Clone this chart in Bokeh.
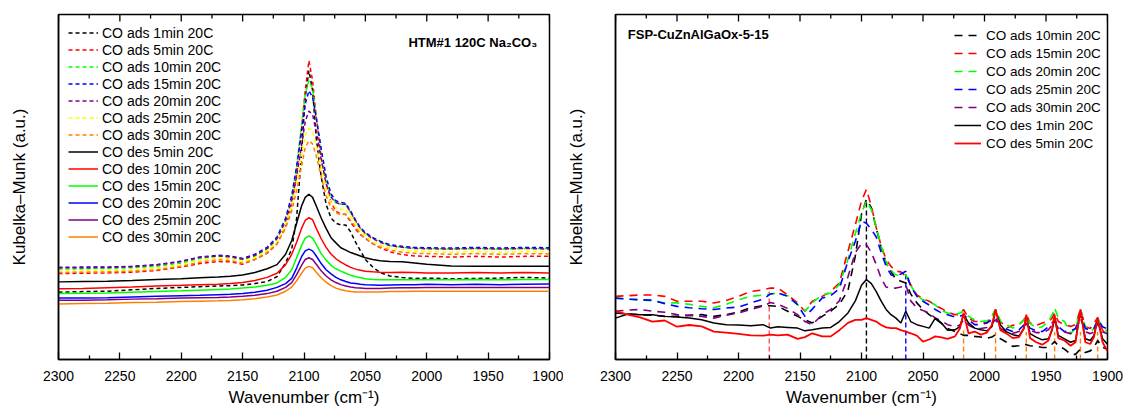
from bokeh.plotting import figure
from bokeh.models import Range1d, FixedTicker, Legend, LegendItem, Label
from bokeh.layouts import row
from bokeh.embed import file_html
from bokeh.resources import INLINE

FONT = "Liberation Sans"

# ---------------- Left panel data (HTM#1 120C Na2CO3) ----------------
WN_L = [2300, 2280, 2260, 2240, 2220, 2200, 2185, 2170, 2160, 2150, 2140, 2130, 2122, 2115,
        2110, 2106, 2102, 2099, 2096, 2093, 2090, 2086, 2082, 2078, 2074, 2070, 2066, 2062,
        2058, 2054, 2050, 2044, 2038, 2030, 2020, 2010, 2000, 1980, 1960, 1940, 1920, 1900]

L_ADS_1 = [19.5, 19.7, 19.8, 20.2, 20.6, 20.9, 21.1, 21.3, 21.4, 21.6, 22.0, 22.6, 24.0, 28.0,
           32.0, 41.0, 60.0, 76.0, 83.7, 78.0, 64.0, 53.0, 45.0, 41.0, 39.5, 39.0, 39.0, 37.0,
           34.0, 31.5, 29.0, 26.8, 25.2, 24.2, 23.8, 23.5, 23.6, 23.4, 23.5, 23.6, 23.8, 23.6]
L_ADS_5 = [24.9, 25.0, 25.1, 25.3, 25.8, 26.8, 27.8, 28.4, 28.3, 27.6, 29.0, 30.8, 33.5, 38.5,
           44.5, 53.8, 67.0, 78.0, 86.6, 80.8, 70.2, 58.5, 50.8, 45.5, 43.0, 42.1, 42.1, 39.8,
           37.8, 36.2, 35.1, 33.6, 32.4, 31.2, 30.4, 30.0, 29.9, 29.7, 29.9, 29.7, 29.9, 29.9]
L_ADS_10 = [26.2, 26.3, 26.4, 26.6, 27.0, 28.0, 29.3, 29.9, 29.7, 29.0, 30.0, 32.0, 35.0, 40.5,
            47.0, 56.0, 68.0, 77.0, 80.8, 78.5, 70.0, 61.0, 52.0, 47.5, 45.5, 45.0, 44.8, 42.5,
            40.0, 38.0, 36.5, 35.3, 34.3, 33.0, 32.5, 32.3, 32.2, 32.0, 32.2, 32.0, 32.2, 32.2]
L_ADS_15 = [26.7, 26.8, 26.8, 27.0, 27.5, 28.5, 29.7, 30.2, 30.0, 29.3, 30.5, 32.5, 35.5, 41.0,
            47.5, 56.0, 66.0, 74.0, 77.9, 76.0, 70.0, 61.0, 53.0, 48.0, 46.0, 45.5, 45.3, 43.0,
            40.5, 38.2, 36.8, 35.3, 34.3, 33.3, 32.8, 32.5, 32.4, 32.3, 32.5, 32.3, 32.5, 32.4]
L_ADS_20 = [26.6, 26.6, 26.7, 26.9, 27.4, 28.4, 29.6, 30.0, 29.8, 29.1, 30.2, 32.2, 35.0, 40.0,
            46.0, 53.0, 62.0, 69.0, 72.0, 71.0, 66.0, 58.0, 51.0, 47.0, 45.5, 45.0, 45.0, 42.7,
            40.2, 37.9, 36.5, 35.0, 34.0, 33.0, 32.5, 32.2, 32.1, 32.0, 32.2, 32.0, 32.2, 32.0]
L_ADS_25 = [25.6, 25.7, 25.8, 26.0, 26.5, 27.5, 28.8, 29.4, 29.2, 28.4, 29.5, 31.5, 34.0, 39.0,
            44.5, 51.0, 59.0, 65.0, 67.0, 66.0, 62.0, 55.5, 49.5, 45.5, 44.0, 43.5, 43.5, 41.5,
            39.5, 37.3, 35.8, 34.3, 33.2, 32.3, 31.7, 31.4, 31.3, 31.1, 31.3, 31.1, 31.3, 31.2]
L_ADS_30 = [25.2, 25.3, 25.4, 25.6, 26.0, 27.0, 28.2, 28.9, 28.7, 27.9, 29.0, 31.0, 33.5, 38.0,
            43.0, 49.0, 56.0, 61.5, 63.4, 62.5, 59.0, 53.0, 47.5, 44.0, 42.5, 42.0, 42.0, 40.3,
            38.4, 36.4, 35.0, 33.6, 32.6, 31.7, 31.1, 30.8, 30.7, 30.5, 30.7, 30.5, 30.7, 30.6]
L_DES_5 = [22.5, 22.6, 22.7, 22.9, 23.2, 23.4, 23.7, 23.9, 24.1, 24.5, 25.2, 26.3, 27.5, 30.5,
           34.5, 39.5, 44.5, 47.0, 47.9, 47.0, 44.5, 41.0, 38.0, 35.3, 33.8, 32.4, 31.7, 31.0,
           30.5, 30.0, 29.5, 29.0, 28.6, 28.4, 28.3, 28.0, 27.6, 27.1, 27.0, 27.0, 27.0, 27.0]
L_DES_10 = [20.5, 20.6, 20.8, 21.0, 21.3, 21.5, 21.7, 21.8, 22.0, 22.3, 22.9, 23.8, 25.0, 27.5,
            30.5, 34.0, 38.0, 40.3, 41.1, 40.5, 38.0, 35.0, 32.5, 30.6, 29.2, 28.2, 27.4, 26.7,
            26.2, 25.9, 25.6, 25.4, 25.3, 25.2, 25.3, 25.2, 25.1, 25.1, 25.2, 25.1, 25.2, 25.1]
L_DES_15 = [19.1, 19.2, 19.3, 19.5, 19.7, 19.9, 20.1, 20.3, 20.4, 20.7, 21.0, 21.5, 22.2, 23.8,
            26.0, 29.5, 33.0, 35.2, 35.8, 35.2, 33.3, 30.7, 28.8, 27.3, 26.3, 25.6, 25.0, 24.4,
            24.0, 23.7, 23.4, 23.2, 23.1, 23.1, 23.1, 23.1, 23.1, 23.1, 23.2, 23.1, 23.2, 23.2]
L_DES_20 = [17.8, 17.8, 17.9, 18.1, 18.3, 18.5, 18.6, 18.8, 18.9, 19.1, 19.5, 20.1, 20.9, 22.0,
            23.5, 26.5, 29.8, 31.5, 32.0, 31.5, 30.0, 27.8, 26.0, 24.8, 23.8, 23.1, 22.6, 22.2,
            22.0, 21.8, 21.7, 21.6, 21.5, 21.6, 21.7, 21.7, 21.8, 21.7, 21.8, 21.7, 21.8, 21.9]
L_DES_25 = [17.2, 17.2, 17.3, 17.5, 17.6, 17.8, 17.9, 18.0, 18.1, 18.3, 18.6, 19.1, 19.8, 20.9,
            22.3, 24.6, 27.3, 29.0, 29.5, 29.0, 27.6, 25.7, 24.2, 23.1, 22.3, 21.7, 21.3, 21.0,
            20.8, 20.7, 20.6, 20.6, 20.6, 20.7, 20.8, 20.8, 20.9, 20.9, 20.9, 20.9, 20.9, 20.9]
L_DES_30 = [16.1, 16.2, 16.3, 16.5, 16.6, 16.8, 16.9, 17.0, 17.1, 17.3, 17.6, 18.1, 18.7, 19.8,
            21.0, 22.8, 25.0, 26.5, 27.0, 26.6, 25.3, 23.7, 22.4, 21.4, 20.7, 20.2, 19.9, 19.7,
            19.6, 19.6, 19.6, 19.6, 19.6, 19.7, 19.7, 19.8, 19.8, 19.8, 19.8, 19.8, 19.8, 19.8]

L_NAMES = ["CO ads 1min 20C", "CO ads 5min 20C", "CO ads 10min 20C", "CO ads 15min 20C",
           "CO ads 20min 20C", "CO ads 25min 20C", "CO ads 30min 20C", "CO des 5min 20C",
           "CO des 10min 20C", "CO des 15min 20C", "CO des 20min 20C", "CO des 25min 20C",
           "CO des 30min 20C"]
L_SERIES = [L_ADS_1, L_ADS_5, L_ADS_10, L_ADS_15, L_ADS_20, L_ADS_25, L_ADS_30,
            L_DES_5, L_DES_10, L_DES_15, L_DES_20, L_DES_25, L_DES_30]
L_COLORS = ["#000000", "#ff0000", "#00ff00", "#0000ff", "#800080", "#ffff00", "#ff8000",
            "#000000", "#ff0000", "#00ff00", "#0000ff", "#800080", "#ff8000"]
L_DASHED = [True] * 7 + [False] * 6

# ---------------- Right panel data (FSP-CuZnAlGaOx-5-15) ----------------
WN_R = [2300, 2290, 2280, 2270, 2260, 2250, 2240, 2230, 2220, 2210,
        2200, 2190, 2180, 2174, 2168, 2160, 2152, 2146, 2140, 2132,
        2125, 2118, 2111, 2105, 2100, 2096, 2092, 2088, 2084, 2080,
        2076, 2072, 2068, 2064, 2060, 2055, 2050, 2045, 2040, 2035,
        2030, 2024, 2020, 2017, 2013, 2008, 2003, 1998, 1994, 1991,
        1987, 1982, 1977, 1972, 1968, 1966, 1963, 1958, 1953, 1948,
        1945, 1943, 1940, 1935, 1930, 1926, 1922, 1918, 1914, 1911,
        1908, 1904, 1900]

R_ADS_10 = [13.5, 13.2, 13.0, 12.8, 12.5, 12.5, 12.8, 13.0, 12.5, 13.0,
            13.8, 15.0, 15.6, 15.6, 15.4, 14.0, 12.5, 11.5, 10.6, 12.5,
            14.0, 16.0, 20.0, 30.0, 42.1, 46.4, 44.0, 38.0, 32.5, 28.0,
            25.5, 23.2, 22.7, 22.2, 19.0, 16.4, 14.5, 13.0, 11.8, 10.5,
            9.0, 8.1, 7.5, 7.0, 7.0, 6.7, 6.5, 6.2, 6.5, 7.2,
            6.0, 5.0, 3.8, 4.0, 4.5, 4.3, 4.0, 3.8, 3.5, 3.5,
            4.5, 5.2, 4.0, 3.0, 1.5, 1.5, 3.0, 2.0, 2.5, 3.5,
            5.5, 3.5, 3.0]
R_ADS_15 = [18.3, 18.5, 18.7, 18.7, 18.3, 16.9, 16.9, 16.9, 16.4, 17.1,
            18.3, 19.7, 20.2, 20.7, 20.7, 18.7, 16.4, 14.0, 16.9, 18.3,
            19.7, 22.2, 31.4, 39.1, 45.9, 49.3, 44.5, 38.2, 32.9, 29.0,
            27.0, 25.6, 25.4, 24.1, 21.7, 18.7, 17.6, 16.9, 15.7, 14.8,
            13.7, 13.0, 13.0, 14.5, 12.0, 11.0, 11.0, 10.6, 12.5, 14.5,
            11.0, 9.1, 9.9, 10.1, 11.5, 13.0, 10.6, 9.9, 10.6, 11.0,
            12.0, 13.5, 11.0, 10.1, 9.6, 10.1, 14.6, 9.5, 9.0, 10.5,
            12.2, 8.5, 6.5]
R_ADS_20 = [17.8, 17.5, 17.3, 17.0, 16.4, 16.4, 16.0, 15.4, 15.0, 16.0,
            17.3, 18.3, 18.7, 19.0, 19.2, 18.5, 15.9, 14.0, 16.4, 18.8,
            19.2, 21.7, 29.0, 36.5, 42.5, 45.9, 43.5, 38.2, 33.0, 28.0,
            25.8, 24.5, 24.5, 24.6, 21.5, 18.5, 17.3, 16.9, 15.8, 14.2,
            13.5, 13.0, 13.5, 14.0, 12.5, 11.5, 11.0, 11.2, 12.5, 14.5,
            11.0, 10.0, 9.1, 10.0, 11.5, 12.3, 10.5, 9.1, 9.5, 11.0,
            13.0, 15.0, 12.0, 11.0, 7.5, 9.0, 14.5, 9.5, 8.0, 9.0,
            12.0, 9.5, 7.8]
R_ADS_25 = [17.8, 17.5, 17.3, 17.2, 16.2, 15.4, 15.0, 14.7, 14.5, 14.9,
            15.2, 16.4, 17.5, 19.0, 19.3, 18.3, 15.9, 12.5, 14.6, 17.8,
            18.5, 20.5, 28.5, 34.3, 40.1, 39.5, 37.7, 35.5, 31.0, 27.0,
            24.5, 24.1, 24.8, 25.6, 21.2, 18.3, 16.9, 15.8, 14.5, 13.5,
            13.0, 12.3, 12.5, 13.0, 11.5, 10.1, 10.1, 10.6, 11.5, 12.0,
            10.0, 8.8, 8.1, 8.6, 10.0, 10.6, 9.1, 8.3, 8.1, 9.5,
            10.6, 11.5, 9.5, 8.1, 8.3, 9.0, 13.0, 9.0, 8.5, 9.0,
            11.5, 9.5, 8.8]
R_ADS_30 = [14.0, 14.3, 14.5, 14.0, 13.7, 13.0, 12.8, 12.5, 12.0, 12.8,
            13.5, 14.5, 15.5, 16.5, 16.0, 14.8, 13.0, 11.0, 10.1, 13.0,
            14.5, 17.0, 24.0, 31.0, 33.6, 33.3, 31.0, 27.5, 23.5, 21.0,
            20.7, 20.7, 21.0, 21.7, 17.0, 15.0, 14.2, 13.5, 12.0, 11.2,
            10.1, 9.5, 10.0, 11.5, 10.0, 9.0, 9.0, 9.3, 10.5, 11.5,
            9.0, 8.0, 7.6, 8.1, 9.5, 10.5, 8.5, 7.8, 7.8, 8.6,
            10.0, 11.0, 9.0, 8.0, 7.5, 8.0, 12.0, 8.0, 7.5, 8.0,
            10.5, 8.0, 7.5]
R_DES_1 = [12.0, 13.2, 13.0, 13.0, 12.5, 12.3, 12.0, 11.5, 10.6, 10.1,
           10.0, 9.8, 10.1, 9.1, 9.5, 9.3, 9.1, 8.3, 8.6, 9.1,
           9.3, 11.0, 13.5, 17.0, 21.5, 23.2, 22.0, 19.7, 16.9, 14.5,
           13.0, 12.0, 10.6, 14.0, 11.0, 10.1, 9.6, 9.1, 12.0, 10.6,
           8.5, 8.6, 9.5, 13.0, 10.6, 9.1, 8.6, 8.3, 9.5, 14.0,
           10.0, 8.0, 7.2, 6.8, 9.0, 12.5, 7.5, 6.5, 5.7, 6.0,
           8.5, 12.0, 7.0, 6.0, 5.0, 5.5, 14.0, 6.0, 5.5, 7.0,
           11.5, 6.0, 4.4]
R_DES_5 = [14.0, 13.0, 12.2, 11.0, 11.3, 9.5, 10.0, 9.6, 8.1, 7.8,
           7.4, 7.0, 6.9, 7.2, 7.0, 7.2, 6.0, 6.5, 7.6, 6.7,
           6.7, 8.5, 10.6, 11.5, 11.5, 12.0, 11.5, 11.0, 10.0, 9.3,
           9.1, 9.1, 8.5, 8.1, 7.6, 6.9, 5.2, 5.8, 6.7, 6.4,
           6.0, 6.7, 9.0, 13.5, 7.6, 8.1, 7.2, 7.8, 10.0, 14.5,
           8.5, 7.5, 6.2, 6.5, 9.0, 13.0, 6.2, 5.0, 4.3, 5.5,
           9.0, 13.0, 6.2, 5.5, 4.0, 5.0, 14.5, 5.0, 4.5, 6.5,
           12.0, 5.0, 2.4]

R_NAMES = ["CO ads 10min 20C", "CO ads 15min 20C", "CO ads 20min 20C", "CO ads 25min 20C",
           "CO ads 30min 20C", "CO des 1min 20C", "CO des 5min 20C"]
R_SERIES = [R_ADS_10, R_ADS_15, R_ADS_20, R_ADS_25, R_ADS_30, R_DES_1, R_DES_5]
R_COLORS = ["#000000", "#ff0000", "#00ff00", "#0000ff", "#800080", "#000000", "#ff0000"]
R_DASHED = [True] * 5 + [False] * 2

# peak-marker lines in the right panel
MARK_WN = [2175, 2096, 2064, 2017, 1991, 1966, 1943, 1922, 1908]
MARK_TOP = [19.7, 45.5, 25.6, 9.0, 8.0, 8.0, 8.0, 8.0, 8.0]
MARK_COLORS = ["#ff5050", "#000000", "#0000ff", "#ff8000", "#ff8000", "#ff8000",
               "#ff8000", "#ff8000", "#ff8000"]

X_TICKS = [1900, 1950, 2000, 2050, 2100, 2150, 2200, 2250, 2300]
X_MINOR = [1925, 1975, 2025, 2075, 2125, 2175, 2225, 2275]

Y_MAX = 100.0
FRAME_H = 345          # px
MAJOR_LEN = 7          # px
MINOR_LEN = 4          # px


def base_fig(width, left, right, ylab_standoff):
    p = figure(width=width, height=412, x_range=Range1d(2300, 1900),
               y_range=Range1d(0, Y_MAX),
               output_backend="svg", toolbar_location=None,
               min_border_left=left, min_border_right=right, min_border_top=14,
               min_border_bottom=412 - 14 - FRAME_H)
    p.xgrid.visible = False
    p.ygrid.visible = False
    p.outline_line_color = "black"
    p.outline_line_width = 1.5
    p.outline_line_alpha = 1.0
    p.background_fill_color = "white"
    p.border_fill_color = "white"

    xa = p.xaxis[0]
    xa.ticker = FixedTicker(ticks=X_TICKS, minor_ticks=X_MINOR)
    xa.major_tick_in = MAJOR_LEN
    xa.major_tick_out = 0
    xa.minor_tick_in = MINOR_LEN
    xa.minor_tick_out = 0
    xa.major_tick_line_color = "black"
    xa.minor_tick_line_color = "black"
    xa.major_tick_line_width = 1.3
    xa.minor_tick_line_width = 1.3
    xa.axis_line_color = "black"
    xa.axis_line_width = 1.5
    xa.major_label_text_font = FONT
    xa.major_label_text_font_size = "14px"
    xa.major_label_text_color = "black"
    xa.major_label_standoff = 11
    xa.axis_label = "Wavenumber (cm\u207b\u00b9)"
    xa.axis_label_text_font = FONT
    xa.axis_label_text_font_size = "17px"
    xa.axis_label_text_font_style = "normal"
    xa.axis_label_text_color = "black"
    xa.axis_label_standoff = 4

    # inward ticks along the top edge of the frame (mirror of the bottom axis)
    unit = Y_MAX / FRAME_H
    p.segment(x0=X_TICKS, y0=[Y_MAX] * len(X_TICKS), x1=X_TICKS,
              y1=[Y_MAX - MAJOR_LEN * unit] * len(X_TICKS),
              line_color="black", line_width=1.3)
    p.segment(x0=X_MINOR, y0=[Y_MAX] * len(X_MINOR), x1=X_MINOR,
              y1=[Y_MAX - MINOR_LEN * unit] * len(X_MINOR),
              line_color="black", line_width=1.3)

    ya = p.yaxis[0]
    ya.ticker = FixedTicker(ticks=[])
    ya.major_tick_in = 0
    ya.major_tick_out = 0
    ya.minor_tick_in = 0
    ya.minor_tick_out = 0
    ya.axis_line_color = "black"
    ya.axis_line_width = 1.5
    ya.axis_label = "Kubelka\u2013Munk (a.u.)"
    ya.axis_label_text_font = FONT
    ya.axis_label_text_font_size = "17px"
    ya.axis_label_text_font_style = "normal"
    ya.axis_label_text_color = "black"
    ya.axis_label_standoff = ylab_standoff
    return p


# ---------------- Left figure ----------------
p1 = base_fig(563, 58, 14, 30)
items1 = []
for name, ys, col, dashed in zip(L_NAMES, L_SERIES, L_COLORS, L_DASHED):
    r = p1.line(WN_L, ys, line_color=col, line_width=1.5,
                line_dash="4 3" if dashed else "solid")
    items1.append(LegendItem(label=name, renderers=[r]))
leg1 = Legend(items=items1, location=(10, 114), margin=0, padding=0,
              glyph_width=30, glyph_height=17, label_height=17, spacing=0,
              label_standoff=4, label_text_font=FONT, label_text_font_size="14px",
              label_text_color="black", border_line_alpha=0, background_fill_alpha=0)
p1.add_layout(leg1)
p1.add_layout(Label(x=1910, y=92, text="HTM#1 120C Na\u2082CO\u2083", text_font=FONT,
                    text_font_size="13px", text_font_style="bold", text_align="right",
                    text_baseline="middle", text_color="black"))

# ---------------- Right figure ----------------
p2 = base_fig(563, 51, 19, 30)
for wn, top_v, col in zip(MARK_WN, MARK_TOP, MARK_COLORS):
    p2.segment(x0=[wn], y0=[0], x1=[wn], y1=[top_v], line_color=col, line_width=1.4,
               line_dash="5 3")
items2 = []
for name, ys, col, dashed in zip(R_NAMES, R_SERIES, R_COLORS, R_DASHED):
    lw = 1.6 if dashed else (1.5 if col == "#000000" else 1.8)
    r = p2.line(WN_R, ys, line_color=col, line_width=lw,
                line_dash="8 6" if dashed else "solid")
    items2.append(LegendItem(label=name, renderers=[r]))
leg2 = Legend(items=items2, location=(339, 207), margin=0, padding=0,
              glyph_width=27, glyph_height=18, label_height=18, spacing=0,
              label_standoff=5, label_text_font=FONT, label_text_font_size="13.5px",
              label_text_color="black", border_line_alpha=0, background_fill_alpha=0)
p2.add_layout(leg2)
p2.add_layout(Label(x=2290, y=94.2, text="FSP-CuZnAlGaOx-5-15", text_font=FONT,
                    text_font_size="13px", text_font_style="bold", text_align="left",
                    text_baseline="middle", text_color="black"))

layout = row(p1, p2)
open("out.html", "w").write(file_html(layout, INLINE))
